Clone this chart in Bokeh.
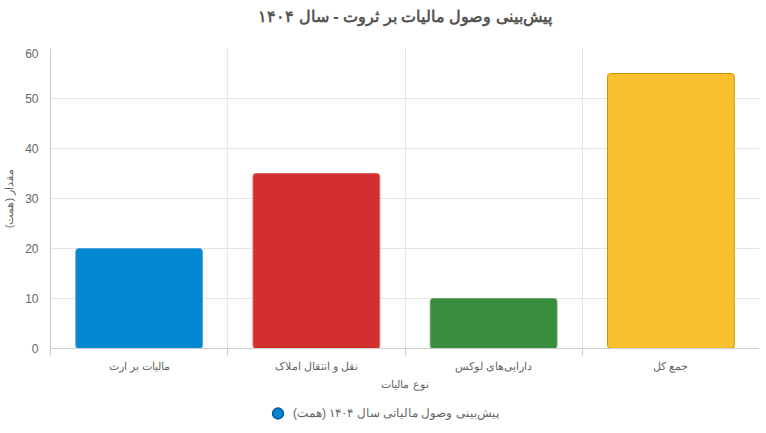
from bokeh.plotting import figure, ColumnDataSource
from bokeh.models import FixedTicker, Legend, LegendItem, Range1d
from bokeh.core.properties import value
from bokeh.layouts import column
from bokeh.embed import file_html
from bokeh.resources import INLINE
import numpy as np

# داده‌ها
categories = ["مالیات بر ارث", "نقل و انتقال املاک", "دارایی‌های لوکس", "جمع کل"]
values = [20, 35, 10, 55]
fill_colors = ["#0288D1", "#D32F2F", "#388E3C", "#FBC02D"]
line_colors = ["#4FA3DB", "#E06666", "#6A9F6A", "#C99700"]
y_ticks = [0, 10, 20, 30, 40, 50, 60]

title = "پیش‌بینی وصول مالیات بر ثروت - سال ۱۴۰۴"
series_name = "پیش‌بینی وصول مالیاتی سال ۱۴۰۴ (همت)"
x_label = "نوع مالیات"
y_label = "مقدار (همت)"

FONT = "Liberation Sans"
GRID = "#e5e5e5"
AXIS = "#cccccc"
TEXT = "#666666"

n = len(categories)
centers = np.arange(n) + 0.5
source = ColumnDataSource(dict(x=centers, top=values, fill=fill_colors, line=line_colors, name=categories))

# عنوان در یک نوار بالای نمودار
head = figure(width=750, height=48, x_range=Range1d(0, 750), y_range=Range1d(0, 48),
              output_backend="svg", toolbar_location=None,
              x_axis_location=None, y_axis_location=None, min_border=0)
head.outline_line_color = None
head.grid.grid_line_color = None
head.text(x=[380], y=[32], text=[title], text_align="center", text_baseline="middle",
          text_font=value(FONT), text_font_size="16px", text_font_style="bold", text_color="#555555")

# نمودار اصلی
p = figure(frame_width=709, frame_height=300, x_range=Range1d(0, n), y_range=Range1d(0, 60),
           output_backend="svg", toolbar_location=None,
           min_border_left=41, min_border_right=0, min_border_top=0, min_border_bottom=50)
p.outline_line_color = None
p.background_fill_color = "white"

r = p.vbar(x="x", top="top", width=0.715, bottom=0, source=source,
           fill_color="fill", line_color="line", line_width=1, border_radius=3)

# محور افقی
xt = FixedTicker(ticks=list(centers), minor_ticks=list(range(n + 1)))
p.xaxis.ticker = xt
p.xaxis.major_label_overrides = {float(c): name for c, name in zip(centers, categories)}
p.xaxis.major_tick_line_color = None
p.xaxis.minor_tick_line_color = AXIS
p.xaxis.minor_tick_in = 0
p.xaxis.minor_tick_out = 7
p.xaxis.axis_line_color = AXIS
p.xaxis.major_label_text_font = FONT
p.xaxis.major_label_text_font_size = "11px"
p.xaxis.major_label_text_color = TEXT
p.xaxis.major_label_standoff = 4
p.xaxis.axis_label = x_label
p.xaxis.axis_label_text_font = FONT
p.xaxis.axis_label_text_font_size = "11px"
p.xaxis.axis_label_text_font_style = "normal"
p.xaxis.axis_label_text_color = TEXT
p.xaxis.axis_label_standoff = 3

p.xgrid.ticker = xt
p.xgrid.grid_line_color = None
p.xgrid.minor_grid_line_color = GRID

# محور عمودی
p.yaxis.ticker = FixedTicker(ticks=y_ticks)
p.yaxis.major_tick_line_color = None
p.yaxis.minor_tick_line_color = None
p.yaxis.axis_line_color = AXIS
p.yaxis.major_label_text_font = FONT
p.yaxis.major_label_text_font_size = "12px"
p.yaxis.major_label_text_color = TEXT
p.yaxis.major_label_standoff = 6
p.yaxis.axis_label = y_label
p.yaxis.axis_label_text_font = FONT
p.yaxis.axis_label_text_font_size = "11px"
p.yaxis.axis_label_text_font_style = "normal"
p.yaxis.axis_label_text_color = TEXT
p.yaxis.axis_label_standoff = 7
p.ygrid.grid_line_color = GRID

# راهنما در یک شکل کوچک زیر نمودار
leg = figure(width=750, height=30, x_range=Range1d(0, 1), y_range=Range1d(0, 1),
             output_backend="svg", toolbar_location=None,
             x_axis_location=None, y_axis_location=None, min_border=0)
leg.outline_line_color = None
leg.grid.grid_line_color = None
dot = leg.scatter(x=[-1], y=[-1], size=12, fill_color="#0288D1", line_color="#01579B", line_width=1.5)
legend = Legend(items=[LegendItem(label=series_name, renderers=[dot])],
                orientation="horizontal", location=(214, 0),
                label_text_font=FONT, label_text_font_size="12px", label_text_color=TEXT,
                border_line_color=None, background_fill_alpha=0, padding=0, margin=0,
                glyph_width=27, glyph_height=30, label_height=14, label_standoff=2)
leg.add_layout(legend)

page = column(head, p, leg, spacing=0)
open("out.html", "w").write(file_html(page, INLINE))
